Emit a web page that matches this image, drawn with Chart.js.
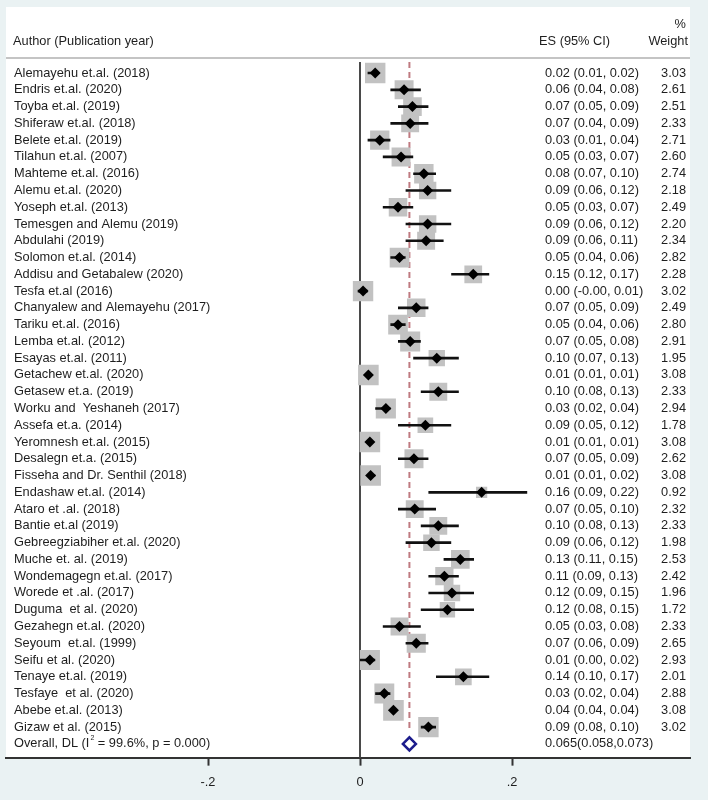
<!DOCTYPE html>
<html>
<head>
<meta charset="utf-8">
<script src="https://cdn.jsdelivr.net/npm/chart.js@4.4.1/dist/chart.umd.min.js"></script>
<style>
  html, body { margin: 0; padding: 0; background: #eaf2f3; }
</style>
</head>
<body>
<canvas id="forest" width="708" height="800"></canvas>
<script>
const authors = [
  "Alemayehu et.al. (2018)", "Endris et.al. (2020)", "Toyba et.al. (2019)", "Shiferaw et.al. (2018)",
  "Belete et.al. (2019)", "Tilahun et.al. (2007)", "Mahteme et.al. (2016)", "Alemu et.al. (2020)",
  "Yoseph et.al. (2013)", "Temesgen and Alemu (2019)", "Abdulahi (2019)", "Solomon et.al. (2014)",
  "Addisu and Getabalew (2020)", "Tesfa et.al (2016)", "Chanyalew and Alemayehu (2017)", "Tariku et.al. (2016)",
  "Lemba et.al. (2012)", "Esayas et.al. (2011)", "Getachew et.al. (2020)", "Getasew et.a. (2019)",
  "Worku and  Yeshaneh (2017)", "Assefa et.a. (2014)", "Yeromnesh et.al. (2015)", "Desalegn et.a. (2015)",
  "Fisseha and Dr. Senthil (2018)", "Endashaw et.al. (2014)", "Ataro et .al. (2018)", "Bantie et.al (2019)",
  "Gebreegziabiher et.al. (2020)", "Muche et. al. (2019)", "Wondemagegn et.al. (2017)", "Worede et .al. (2017)",
  "Duguma  et al. (2020)", "Gezahegn et.al. (2020)", "Seyoum  et.al. (1999)", "Seifu et al. (2020)",
  "Tenaye et.al. (2019)", "Tesfaye  et al. (2020)", "Abebe et.al. (2013)", "Gizaw et al. (2015)"
]
const es = [
  0.020, 0.058, 0.069, 0.066, 0.026, 0.054, 0.084, 0.089, 0.050, 0.089, 0.087, 0.052, 0.149, 0.004,
  0.074, 0.050, 0.066, 0.101, 0.011, 0.103, 0.034, 0.086, 0.013, 0.071, 0.014, 0.160, 0.072, 0.103,
  0.094, 0.132, 0.111, 0.121, 0.115, 0.052, 0.074, 0.013, 0.136, 0.032, 0.044, 0.090
]
const lower = [
  0.01, 0.04, 0.05, 0.04, 0.01, 0.03, 0.07, 0.06, 0.03, 0.06, 0.06, 0.04, 0.12, -0.003,
  0.05, 0.04, 0.05, 0.07, 0.01, 0.08, 0.02, 0.05, 0.01, 0.05, 0.01, 0.09, 0.05, 0.08,
  0.06, 0.11, 0.09, 0.09, 0.08, 0.03, 0.06, 0.00, 0.10, 0.02, 0.04, 0.08
]
const upper = [
  0.02, 0.08, 0.09, 0.09, 0.04, 0.07, 0.10, 0.12, 0.07, 0.12, 0.11, 0.06, 0.17, 0.01,
  0.09, 0.06, 0.08, 0.13, 0.01, 0.13, 0.04, 0.12, 0.01, 0.09, 0.02, 0.22, 0.10, 0.13,
  0.12, 0.15, 0.13, 0.15, 0.15, 0.08, 0.09, 0.02, 0.17, 0.04, 0.04, 0.10
]
const weights = [
  3.03, 2.61, 2.51, 2.33, 2.71, 2.60, 2.74, 2.18, 2.49, 2.20, 2.34, 2.82, 2.28, 3.02,
  2.49, 2.80, 2.91, 1.95, 3.08, 2.33, 2.94, 1.78, 3.08, 2.62, 3.08, 0.92, 2.32, 2.33,
  1.98, 2.53, 2.42, 1.96, 1.72, 2.33, 2.65, 2.93, 2.01, 2.88, 3.08, 3.02
]
const overallLabel = ["Overall, DL (I", "2", " = 99.6%, p = 0.000)"]
const overallES = 0.065
const overallLower = 0.058
const overallUpper = 0.073
const xTicks = [-0.2, 0, 0.2]
const xTickLabels = ["-.2", "0", ".2"]

const FONT = '12.8px "Liberation Sans", Arial, sans-serif'
const TEXT = "#1e1e1e"
const overallRow = authors.length

const rows = authors.map((a, i) => i)

// CI whiskers as one broken line (null point between studies)
const ciPoints = []
rows.forEach(i => {
  ciPoints.push({ x: lower[i], y: i })
  ciPoints.push({ x: upper[i], y: i })
  ciPoints.push({ x: lower[i], y: null })
})

const pageBackground = {
  id: "pageBackground",
  beforeDraw(chart) {
    const ctx = chart.ctx
    ctx.save()
    ctx.fillStyle = "#eaf2f3"
    ctx.fillRect(0, 0, chart.width, chart.height)
    ctx.fillStyle = "#ffffff"
    ctx.fillRect(6, 7, 684, chart.chartArea.bottom - 7)
    ctx.restore()
  }
}

const tableText = {
  id: "tableText",
  afterDraw(chart) {
    const ctx = chart.ctx
    const yScale = chart.scales.y
    ctx.save()
    ctx.font = FONT
    ctx.fillStyle = TEXT
    ctx.textBaseline = "middle"

    // header
    ctx.textAlign = "left"
    ctx.fillText("Author (Publication year)", 13, 41)
    ctx.fillText("ES (95% CI)", 539, 41)
    ctx.textAlign = "right"
    ctx.fillText("%", 686, 24)
    ctx.fillText("Weight", 688, 41)

    ctx.strokeStyle = "#c4c4c4"
    ctx.lineWidth = 2
    ctx.beginPath()
    ctx.moveTo(6, 58)
    ctx.lineTo(690, 58)
    ctx.stroke()

    rows.forEach(i => {
      const y = yScale.getPixelForValue(i)
      ctx.textAlign = "left"
      ctx.fillText(authors[i], 14, y)
      ctx.fillText(es[i].toFixed(2) + " (" + lower[i].toFixed(2) + ", " + upper[i].toFixed(2) + ")", 545, y)
      ctx.textAlign = "right"
      ctx.fillText(weights[i].toFixed(2), 686, y)
    })

    // overall row with superscript
    const yo = yScale.getPixelForValue(overallRow)
    ctx.textAlign = "left"
    let x = 14
    ctx.fillText(overallLabel[0], x, yo)
    x += ctx.measureText(overallLabel[0]).width + 1
    ctx.font = '7px "Liberation Sans", Arial, sans-serif'
    ctx.fillText(overallLabel[1], x, yo - 6)
    x += ctx.measureText(overallLabel[1]).width
    ctx.font = FONT
    ctx.fillText(overallLabel[2], x, yo)
    ctx.fillText(overallES.toFixed(3) + "(" + overallLower.toFixed(3) + "," + overallUpper.toFixed(3) + ")", 545, yo)
    ctx.restore()
  }
}

new Chart(document.getElementById("forest"), {
  type: "scatter",
  data: {
    datasets: [
      {
        label: "overall",
        data: [{ x: overallES, y: overallRow }],
        pointStyle: "rectRot",
        pointRadius: 6.5,
        backgroundColor: "#ffffff",
        borderColor: "#1c1c8c",
        borderWidth: 2.5,
        order: 0
      },
      {
        label: "estimate",
        data: rows.map(i => ({ x: es[i], y: i })),
        pointStyle: "rectRot",
        pointRadius: 5.5,
        backgroundColor: "#000000",
        borderWidth: 0,
        order: 1
      },
      {
        label: "ci",
        data: ciPoints,
        showLine: true,
        spanGaps: false,
        borderColor: "#111111",
        borderWidth: 2.6,
        pointRadius: 0,
        order: 2
      },
      {
        label: "weight",
        data: rows.map(i => ({ x: es[i], y: i })),
        pointStyle: "rect",
        pointRadius: weights.map(w => 8.3 * Math.sqrt(w)),
        backgroundColor: "#c2c2c2",
        borderWidth: 0,
        order: 3
      },
      {
        label: "pooled line",
        data: [{ x: overallES, y: -0.66 }, { x: overallES, y: overallRow - 0.75 }],
        showLine: true,
        borderColor: "#bf7a80",
        borderWidth: 2,
        borderDash: [6, 4],
        pointRadius: 0,
        order: 4
      },
      {
        label: "null line",
        data: [{ x: 0, y: -0.66 }, { x: 0, y: 40.82 }],
        showLine: true,
        borderColor: "#4a4a4a",
        borderWidth: 2,
        pointRadius: 0,
        order: 5
      }
    ]
  },
  options: {
    responsive: false,
    animation: false,
    devicePixelRatio: 1,
    layout: { autoPadding: false, padding: { top: 62, left: 6, right: 18, bottom: 1 } },
    plugins: { legend: { display: false }, tooltip: { enabled: false } },
    scales: {
      x: {
        type: "linear",
        min: -0.4658,
        max: 0.4342,
        afterBuildTicks: scale => { scale.ticks = xTicks.map(v => ({ value: v })) },
        afterFit: scale => { scale.paddingLeft = 0; scale.paddingRight = 0 },
        ticks: {
          autoSkip: false,
          maxRotation: 0,
          padding: 9,
          color: TEXT,
          font: { family: '"Liberation Sans", Arial, sans-serif', size: 12.8 },
          callback: v => xTickLabels[xTicks.indexOf(v)]
        },
        grid: { drawOnChartArea: false, drawTicks: true, tickLength: 8, tickColor: "#333333", tickWidth: 2 },
        border: { display: true, color: "#333333", width: 2 }
      },
      y: {
        type: "linear",
        display: false,
        reverse: true,
        min: -0.66,
        max: 40.82
      }
    }
  },
  plugins: [pageBackground, tableText]
})
</script>
</body>
</html>
